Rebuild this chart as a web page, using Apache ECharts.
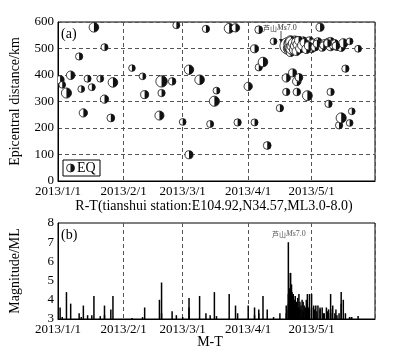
<!DOCTYPE html>
<html>
<head>
<meta charset="utf-8">
<script src="https://cdn.jsdelivr.net/npm/echarts@6/dist/echarts.min.js"></script>
<style>
html, body { margin: 0; padding: 0; background: #fff; }
#main { width: 393px; height: 355px; }
</style>
</head>
<body>
<div id="main"></div>
<script>
// 事件列表：日期、震中距(km)、震级(ML)
var dates = [
    '2013-01-02','2013-01-03','2013-01-05','2013-01-07','2013-01-11','2013-01-12','2013-01-13','2013-01-15',
    '2013-01-17','2013-01-18','2013-01-21','2013-01-23','2013-01-23','2013-01-26','2013-01-27',
    '2013-02-05','2013-02-10','2013-02-11','2013-02-18','2013-02-19','2013-02-19','2013-02-24','2013-02-26',
    '2013-03-01','2013-03-04','2013-03-04','2013-03-09','2013-03-12','2013-03-14','2013-03-16','2013-03-17',
    '2013-03-23','2013-03-26','2013-03-27',
    '2013-04-01','2013-04-04','2013-04-04','2013-04-06','2013-04-06','2013-04-08','2013-04-10','2013-04-13',
    '2013-04-16','2013-04-19','2013-04-19',
    '2013-04-20','2013-04-20','2013-04-20','2013-04-20',
    '2013-04-21','2013-04-21','2013-04-21','2013-04-21','2013-04-21','2013-04-21',
    '2013-04-22','2013-04-22','2013-04-22','2013-04-22','2013-04-22',
    '2013-04-23','2013-04-23','2013-04-23',
    '2013-04-24','2013-04-24','2013-04-24','2013-04-24',
    '2013-04-25','2013-04-25','2013-04-25',
    '2013-04-26','2013-04-26','2013-04-27','2013-04-27','2013-04-28','2013-04-29','2013-04-29',
    '2013-04-30','2013-04-30',
    '2013-05-01','2013-05-01','2013-05-02','2013-05-03','2013-05-04','2013-05-05','2013-05-05',
    '2013-05-06','2013-05-07','2013-05-08','2013-05-09','2013-05-09',
    '2013-05-10','2013-05-10','2013-05-10','2013-05-11','2013-05-12','2013-05-13','2013-05-14',
    '2013-05-15','2013-05-15','2013-05-16','2013-05-17','2013-05-19','2013-05-19','2013-05-20','2013-05-23',
    // 芦山余震（同日多次）
    '2013-04-20 12:00','2013-04-20 18:00','2013-04-21 06:00','2013-04-21 12:00','2013-04-21 18:00',
    '2013-04-22 08:00','2013-04-22 16:00','2013-04-23 06:00','2013-04-23 14:00','2013-04-23 20:00',
    '2013-04-24 10:00','2013-04-24 20:00','2013-04-25 12:00','2013-04-26 12:00','2013-04-27 12:00',
    '2013-04-28 12:00','2013-04-29 12:00','2013-05-02 12:00','2013-05-03 12:00','2013-05-06 12:00',
    '2013-05-08 12:00','2013-05-12 12:00'
];
var distances = [
    382,363,332,399,470,347,257,386,
    354,580,386,505,309,238,372,
    426,395,326,247,376,332,376,588,
    223,99,420,382,574,215,301,341,
    576,578,221,
    357,499,221,571,429,449,134,527,
    275,389,336,
    510,500,522,492,
    515,505,530,495,520,485,
    408,510,525,500,490,
    515,532,500,
    376,336,520,505,
    391,510,530,
    520,500,515,530,505,322,520,
    510,530,
    515,500,520,510,525,580,515,
    505,520,515,291,525,
    336,527,510,515,520,505,210,
    238,505,520,424,219,527,263,499,
    515,505,525,500,510,
    520,495,510,525,490,
    515,530,500,512,522,
    498,510,505,518,512,
    520,510
];
var magnitudes = [
    3.6,3.1,4.4,3.8,3.3,3.1,3.7,3.2,
    3.2,4.2,3.15,3.2,3.7,3.5,4.2,
    3.05,3.1,3.6,4.0,4.9,3.3,3.4,3.2,
    3.1,3.6,4.1,4.2,3.3,3.2,4.4,3.15,
    4.3,3.7,3.3,
    3.7,3.6,3.2,3.5,3.3,4.2,3.5,3.1,
    3.3,3.7,3.3,
    7.0,4.3,3.8,3.5,
    5.4,5.4,4.2,4.0,3.8,3.6,
    3.6,4.2,3.9,3.7,3.5,
    4.0,3.6,3.4,
    3.8,3.4,3.8,3.5,
    3.5,4.3,3.6,
    3.7,3.5,3.9,3.4,3.6,4.3,3.8,
    4.3,3.5,
    4.3,3.6,3.7,3.7,3.7,3.6,3.5,
    3.6,3.3,3.6,3.3,3.5,
    3.3,3.5,4.3,3.7,3.3,3.2,3.3,
    4.4,3.8,4.0,3.3,3.1,3.1,3.1,3.15,
    4.6,4.4,4.6,4.8,4.4,
    4.3,4.0,4.2,3.8,3.9,
    4.1,3.6,3.9,4.0,3.7,
    4.0,3.6,3.5,3.4,3.3,
    3.4,3.5
];
var monthTicks = ['2013-01-01','2013-02-01','2013-03-01','2013-04-01','2013-05-01'];
var distTicks = [0, 100, 200, 300, 400, 500, 600];
var magTicks = [3, 4, 5, 6, 7, 8];

var fontFamily = '"Liberation Serif", "Times New Roman", serif';

var events = dates.map(function (d, i) {
    return [d, distances[i], magnitudes[i]];
});

function symbolDiameter(m) {
    return 6.5 + (m - 3) * 2.6;
}

// 半黑半白的圆（右半边为黑色）
function renderCircle(params, api) {
    var p = api.coord([api.value(0), api.value(1)]);
    var r = symbolDiameter(api.value(2)) / 2;
    return {
        type: 'group',
        children: [
            {type: 'circle', shape: {cx: p[0], cy: p[1], r: r},
             style: {fill: '#fff', stroke: '#111', lineWidth: 0.8}},
            {type: 'sector', shape: {cx: p[0], cy: p[1], r: r, r0: 0,
             startAngle: -Math.PI / 2, endAngle: Math.PI / 2, clockwise: true},
             style: {fill: '#111'}}
        ]
    };
}

function renderBar(params, api) {
    var p0 = api.coord([api.value(0), 3]);
    var p1 = api.coord([api.value(0), api.value(2)]);
    return {
        type: 'line',
        shape: {x1: p0[0], y1: p0[1], x2: p1[0], y2: p1[1]},
        style: {stroke: '#000', lineWidth: 1.5}
    };
}

function fmtDate(v) {
    var d = new Date(v);
    return d.getFullYear() + '/' + (d.getMonth() + 1) + '/' + d.getDate();
}

var axisFont = {fontFamily: fontFamily, fontSize: 13, color: '#000'};
var dashLine = {show: true, lineStyle: {type: [4, 3], color: '#555', width: 1}};

function timeAxis(gridIndex) {
    return {
        type: 'time',
        gridIndex: gridIndex,
        min: monthTicks[0],
        max: '2013-05-31',
        minInterval: 28 * 864e5,
        maxInterval: 31 * 864e5,
        axisLine: {lineStyle: {color: '#000', width: 1}},
        axisTick: {show: false},
        axisLabel: Object.assign({margin: 4, formatter: fmtDate, hideOverlap: false}, axisFont),
        splitLine: dashLine
    };
}

var chartDom = document.getElementById('main');
var myChart = echarts.init(chartDom, null, {renderer: 'canvas'});

var option = {
    animation: false,
    backgroundColor: '#fff',
    grid: [
        {left: 52, top: 22, width: 323, height: 159, show: true, borderColor: '#000', borderWidth: 1, backgroundColor: 'transparent'},
        {left: 52, top: 223, width: 323, height: 96, show: true, borderColor: '#000', borderWidth: 1, backgroundColor: 'transparent'}
    ],
    xAxis: [timeAxis(0), timeAxis(1)],
    yAxis: [
        {
            type: 'value', gridIndex: 0,
            min: distTicks[0], max: distTicks[distTicks.length - 1], interval: 100,
            name: 'Epicentral distance/km', nameLocation: 'middle', nameGap: 36,
            nameTextStyle: {fontFamily: fontFamily, fontSize: 14, color: '#000'},
            axisLine: {show: true, lineStyle: {color: '#000'}},
            axisTick: {show: false},
            axisLabel: Object.assign({margin: 4}, axisFont),
            splitLine: dashLine
        },
        {
            type: 'value', gridIndex: 1,
            min: magTicks[0], max: magTicks[magTicks.length - 1], interval: 1,
            name: 'Magnitude/ML', nameLocation: 'middle', nameGap: 36,
            nameTextStyle: {fontFamily: fontFamily, fontSize: 14, color: '#000'},
            axisLine: {show: true, lineStyle: {color: '#000'}},
            axisTick: {show: false},
            axisLabel: Object.assign({margin: 4}, axisFont),
            splitLine: {show: false}
        }
    ],
    series: [
        {
            type: 'custom', name: 'EQ', xAxisIndex: 0, yAxisIndex: 0,
            clip: true, renderItem: renderCircle,
            encode: {x: 0, y: 1},
            data: events
        },
        {
            type: 'custom', xAxisIndex: 1, yAxisIndex: 1,
            clip: true, renderItem: renderBar,
            encode: {x: 0, y: 2},
            data: events
        }
    ],
    graphic: [
        {type: 'text', left: 61, top: 27, style: {text: '(a)', font: '14px ' + fontFamily, fill: '#000'}},
        {type: 'text', left: 61, top: 228, style: {text: '(b)', font: '14px ' + fontFamily, fill: '#000'}},
        // 图例框
        {type: 'rect', shape: {x: 63, y: 160, width: 37, height: 16}, style: {fill: '#fff', stroke: '#000', lineWidth: 1}, z: 10},
        {type: 'circle', shape: {cx: 70.5, cy: 168, r: 4}, style: {fill: '#fff', stroke: '#111', lineWidth: 0.8}, z: 11},
        {type: 'sector', shape: {cx: 70.5, cy: 168, r: 4, r0: 0, startAngle: -Math.PI / 2, endAngle: Math.PI / 2}, style: {fill: '#111'}, z: 11},
        {type: 'text', x: 77, y: 168, style: {text: 'EQ', font: '14px ' + fontFamily, fill: '#000', textVerticalAlign: 'middle'}, z: 11},
        // 坐标轴标题
        {type: 'text', x: 214, y: 206, style: {text: 'R-T(tianshui station:E104.92,N34.57,ML3.0-8.0)', font: '14px ' + fontFamily, fill: '#000', textAlign: 'center', textVerticalAlign: 'middle'}},
        {type: 'text', x: 210, y: 342, style: {text: 'M-T', font: '14px ' + fontFamily, fill: '#000', textAlign: 'center', textVerticalAlign: 'middle'}},
        // 芦山地震标注
        {type: 'text', x: 263, y: 28, z: 12, style: {
            text: '{a|芦山}{b|Ms}{c|7.0}',
            textVerticalAlign: 'middle',
            rich: {
                a: {fontFamily: '"Noto Sans CJK SC"', fontSize: 7, fill: '#333'},
                b: {fontFamily: fontFamily, fontStyle: 'italic', fontSize: 8, fill: '#333'},
                c: {fontFamily: fontFamily, fontSize: 8, fill: '#333'}
            }
        }},
        {type: 'line', z: 12, shape: {x1: 281, y1: 31, x2: 281, y2: 41}, style: {stroke: '#222', lineWidth: 0.8}},
        {type: 'polygon', z: 12, shape: {points: [[279, 39], [283, 39], [281, 43]]}, style: {fill: '#222'}},
        {type: 'text', x: 272, y: 234, z: 12, style: {
            text: '{a|芦山}{b|Ms}{c|7.0}',
            textVerticalAlign: 'middle',
            rich: {
                a: {fontFamily: '"Noto Sans CJK SC"', fontSize: 7, fill: '#555'},
                b: {fontFamily: fontFamily, fontStyle: 'italic', fontSize: 8, fill: '#555'},
                c: {fontFamily: fontFamily, fontSize: 8, fill: '#555'}
            }
        }}
    ]
};

myChart.setOption(option);
</script>
</body>
</html>
